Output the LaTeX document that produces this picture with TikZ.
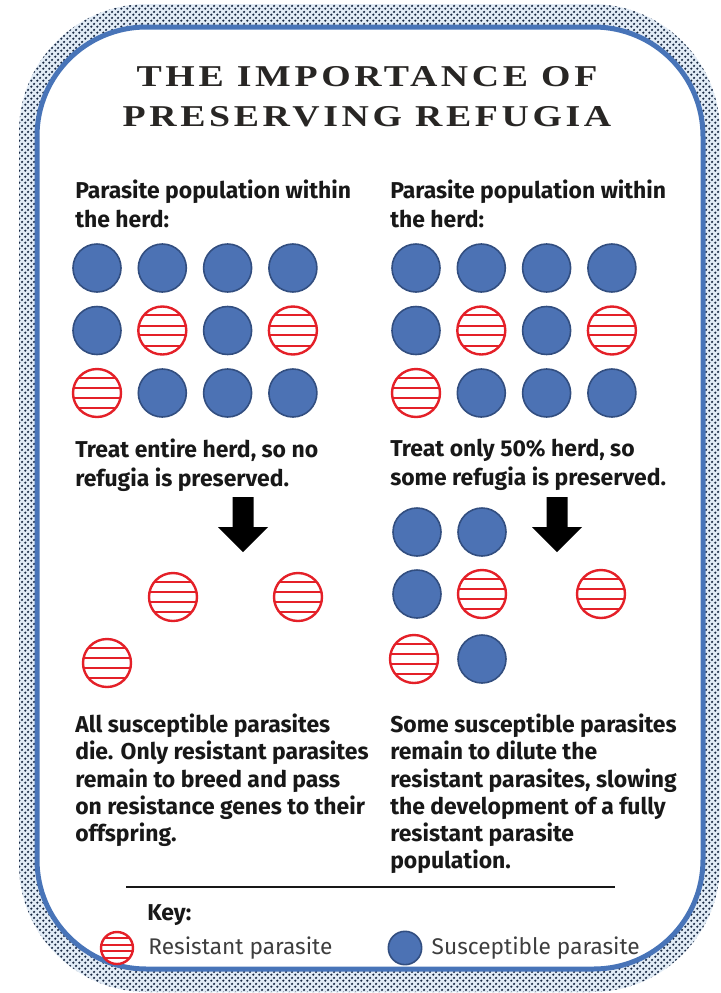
\documentclass[tikz,border=0pt]{standalone}
\usepackage{fontspec}
\setmainfont{Fira Sans}
\newfontfamily\titlefont[FakeStretch=1.25,LetterSpace=12]{Liberation Serif}
\usetikzlibrary{positioning, calc, patterns.meta}

\definecolor{susfill}{RGB}{76,114,180}
\definecolor{susedge}{RGB}{50,78,128}
\definecolor{resred}{RGB}{228,32,40}
\definecolor{frameblue}{RGB}{72,116,184}
\definecolor{bandbg}{RGB}{226,236,246}
\definecolor{dotnavy}{RGB}{24,40,66}
\definecolor{inkblack}{RGB}{24,24,24}
\definecolor{keygrey}{RGB}{62,62,62}
\definecolor{titleink}{RGB}{40,38,36}

% staggered dots for the border band
\pgfdeclarepattern{
  name=bandDots,
  type=uncolored,
  bottom left={\pgfpoint{0pt}{0pt}},
  top right={\pgfpoint{4.6pt}{4.6pt}},
  tile size={\pgfpoint{4.6pt}{4.6pt}},
  code={
    \pgfpathcircle{\pgfpoint{1.15pt}{1.15pt}}{1.05pt}
    \pgfpathcircle{\pgfpoint{3.45pt}{3.45pt}}{1.05pt}
    \pgfusepath{fill}
  }
}

\tikzset{
  bigdown/.pic={\fill (-10.5,0) -- (10.5,0) -- (10.5,30) -- (25,30) -- (0,55) -- (-25,30) -- (-10.5,30) -- cycle;}
}

\begin{document}
\begin{tikzpicture}[x=0.75pt, y=-0.75pt,
    % the two kinds of parasite
    sus/.style = {circle, draw=susedge, fill=susfill, line width=1.2pt, minimum size=36pt, inner sep=0pt},
    res/.style = {circle, draw=resred, fill=white, line width=1.8pt, minimum size=36pt, inner sep=0pt,
        path picture={\foreach \f in {-0.64,-0.2,0.2,0.64}
            \draw[resred, line width=1.4pt] ($(path picture bounding box.center)!\f!(path picture bounding box.north)$) ++(-40pt,0) -- ++(80pt,0);}},
    txt/.style = {anchor=north west, inner sep=0pt, align=left, text=inkblack, font=\bfseries\fontsize{17.2}{21.3}\selectfont},
    keytxt/.style = {inner sep=0pt, text=keygrey, font=\fontsize{17}{20}\selectfont}
]
    \useasboundingbox (0,0) rectangle (721,993);

    % 1. Frame: dotted band and blue line
    \path[pattern=bandDots, pattern color=dotnavy, preaction={fill=bandbg, even odd rule}, even odd rule]
        [rounded corners=96pt] (19,4) rectangle (720,992)
        [rounded corners=82pt] (37,27) rectangle (703,969);
    \draw[frameblue, line width=3.75pt, rounded corners=82pt] (37,27) rectangle (703,969);

    % 2. Title
    \node (title) at (367,97) [align=center, text=titleink,
        font=\titlefont\bfseries\fontsize{22.7}{30}\selectfont] {THE IMPORTANCE OF\\PRESERVING REFUGIA};

    % 3. Headings over both herds
    \node (hdL) [txt] at (75,180) {Parasite population within\\the herd:};
    \node (hdR) [txt] at (390,180) {Parasite population within\\the herd:};

    % 4. The two herds (same mix on both sides)
    \foreach \side/\xo in {L/0, R/319} {
        \foreach \c/\r in {1/1, 2/1, 3/1, 4/1, 1/2, 3/2, 2/3, 3/3, 4/3}
            \node[sus] (\side-\r-\c) at ({97+65.3*(\c-1)+\xo}, {268+62.5*(\r-1)}) {};
        \foreach \c/\r in {2/2, 4/2, 1/3}
            \node[res] (\side-\r-\c) at ({97+65.3*(\c-1)+\xo}, {268+62.5*(\r-1)}) {};
    }

    % 5. Treatment
    \node (trL) [txt] at (75,439) {Treat entire herd, so no\\refugia is preserved.};
    \node (trR) [txt] at (390,439) {Treat only 50\% herd, so\\some refugia is preserved.};
    \pic (arrL) at (243,497) {bigdown};
    \pic (arrR) at (557,497) {bigdown};

    % 6. What is left after treatment
    \node[res] (leftA) at (173,597) {};
    \node[res] (leftB) at (298,597) {};
    \node[res] (leftC) at (107,663) {};

    \node[sus] (rightA) at (417,532) {};
    \node[sus] (rightB) at (482,532) {};
    \node[sus] (rightC) at (417,594) {};
    \node[res] (rightD) at (482,594) {};
    \node[res] (rightE) at (601,594) {};
    \node[res] (rightF) at (414,659) {};
    \node[sus] (rightG) at (482,659) {};

    % 7. Outcome
    \node (outL) [txt, font=\bfseries\fontsize{17.2}{20.3}\selectfont] at (75,714)
        {All susceptible parasites\\die. Only resistant parasites\\remain to breed and pass\\on resistance genes to their\\offspring.};
    \node (outR) [txt, font=\bfseries\fontsize{17.2}{20.3}\selectfont] at (390,714)
        {Some susceptible parasites\\remain to dilute the\\resistant parasites, slowing\\the development of a fully\\resistant parasite\\population.};

    % 8. Key
    \coordinate (ruleL) at (126,887);
    \coordinate (ruleR) at (615,887);
    \draw[inkblack, line width=1pt] (ruleL) -- (ruleR);
    \node (key) [txt] at (147,904) {Key:};
    \node[res, minimum size=24pt] (keyRes) at (117,948) {};
    \node (keyResTxt) [keytxt, right=10.5pt of keyRes] {Resistant parasite};
    \node[sus, minimum size=25pt] (keySus) at (405,948) {};
    \node (keySusTxt) [keytxt, right=6.75pt of keySus] {Susceptible parasite};

\end{tikzpicture}
\end{document}
